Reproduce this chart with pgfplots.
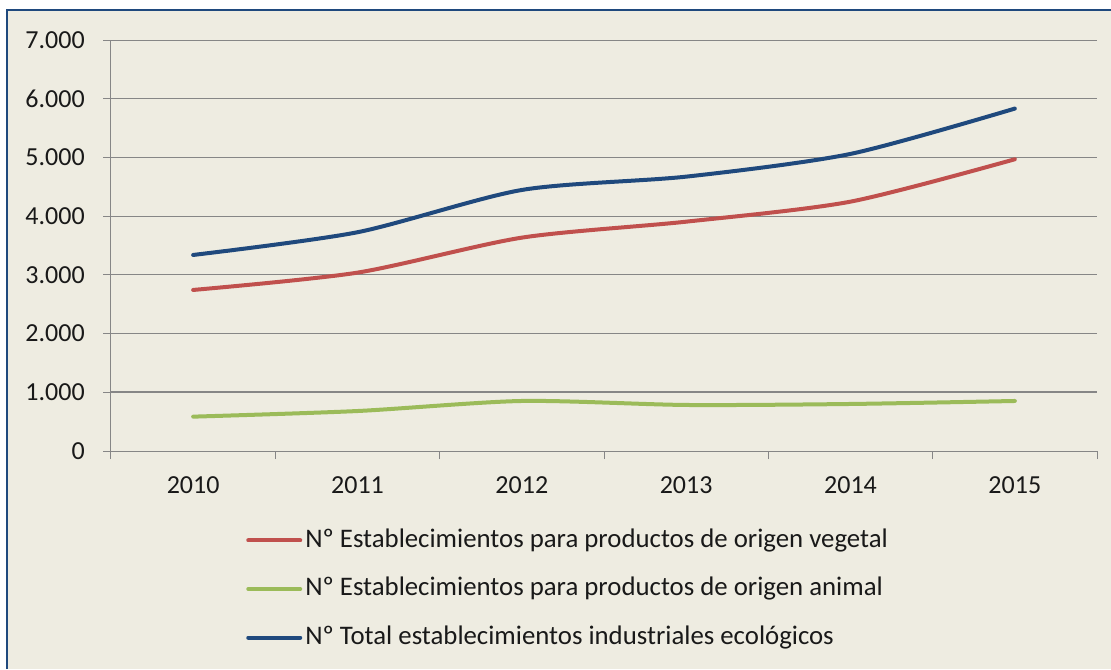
\documentclass[border=0pt]{standalone}
\usepackage{fontspec}
\setmainfont{Carlito}
\usepackage{pgfplots}
\pgfplotsset{compat=1.18}

\definecolor{chartbg}{HTML}{EEECE1}
\definecolor{framec}{HTML}{1F497D}
\definecolor{gridc}{HTML}{868686}
\definecolor{vegc}{HTML}{C0504D}
\definecolor{anic}{HTML}{9BBB59}
\definecolor{totc}{HTML}{1F497D}
\newcommand\cf{\fontsize{19.5pt}{23pt}\selectfont}
\newcommand\lf{\fontsize{20.1pt}{24pt}\selectfont}

\begin{document}
\begin{tikzpicture}
% page: 1111x669 px at 0.75pt per px, plot area lower-left at origin
\useasboundingbox (-83.25pt,-163.5pt) rectangle (750pt,338.25pt);
\fill[white] (-83.25pt,-163.5pt) rectangle (750pt,338.25pt);
\fill[chartbg] (-78pt,-163.5pt) rectangle (750pt,330.75pt);
\draw[framec, line width=1pt] (-78pt,-163.5pt) -- (-78pt,330.75pt) -- (750pt,330.75pt);

\begin{axis}[
  scale only axis,
  width=739.5pt, height=308.25pt,
  xmin=2009.5, xmax=2015.5,
  ymin=0, ymax=7000,
  axis x line*=bottom, axis y line*=left,
  axis line style={draw=gridc, line width=0.75pt},
  xtick={2010,2011,2012,2013,2014,2015},
  xticklabels={2010,2011,2012,2013,2014,2015},
  minor xtick={2009.5,2010.5,2011.5,2012.5,2013.5,2014.5,2015.5},
  major x tick style={draw=none},
  ytick={0,2000,3000,4000,5000,6000,7000},
  extra y ticks={1000},
  extra y tick style={grid style={gridc, line width=1.3pt}},
  scaled y ticks=false,
  ymajorgrids,
  grid style={gridc, line width=0.75pt},
  tick style={gridc, line width=0.75pt},
  major tick length=6pt, minor tick length=6pt,
  tick align=outside,
  /pgf/number format/.cd, 1000 sep={.}, assume math mode=true, /pgfplots/.cd,
  yticklabel style={font=\cf, text=black!90, inner sep=0pt, xshift=-13.5pt},
  xticklabel style={font=\cf, text=black!90, inner sep=0pt, yshift=-13.3pt},
  legend style={at={(0.1369,-0.3358)}, anchor=west, draw=none, fill=none,
    inner sep=0pt, row sep=18.5pt, font=\lf, text=black!90,
    nodes={inner xsep=2.25pt, inner ysep=0pt, text height=14pt, text depth=4pt}},
  legend cell align=left,
  legend image code/.code={\draw[#1, line cap=round] (1.5pt,0pt) -- (40.5pt,0pt);},
  every axis plot/.append style={line width=3pt, smooth, tension=0.45, line cap=round},
]
\addplot[vegc] coordinates {
  (2010,2743)(2011,3038)(2012,3634)(2013,3906)(2014,4247)(2015,4969)
};
\addlegendentry{Nº Establecimientos para productos de origen vegetal}
\addplot[anic] coordinates {
  (2010,585)(2011,681)(2012,852)(2013,784)(2014,801)(2015,852)
};
\addlegendentry{Nº Establecimientos para productos de origen animal}
\addplot[totc] coordinates {
  (2010,3339)(2011,3726)(2012,4446)(2013,4673)(2014,5060)(2015,5832)
};
\addlegendentry{Nº Total establecimientos industriales ecológicos}
\end{axis}
\end{tikzpicture}
\end{document}
